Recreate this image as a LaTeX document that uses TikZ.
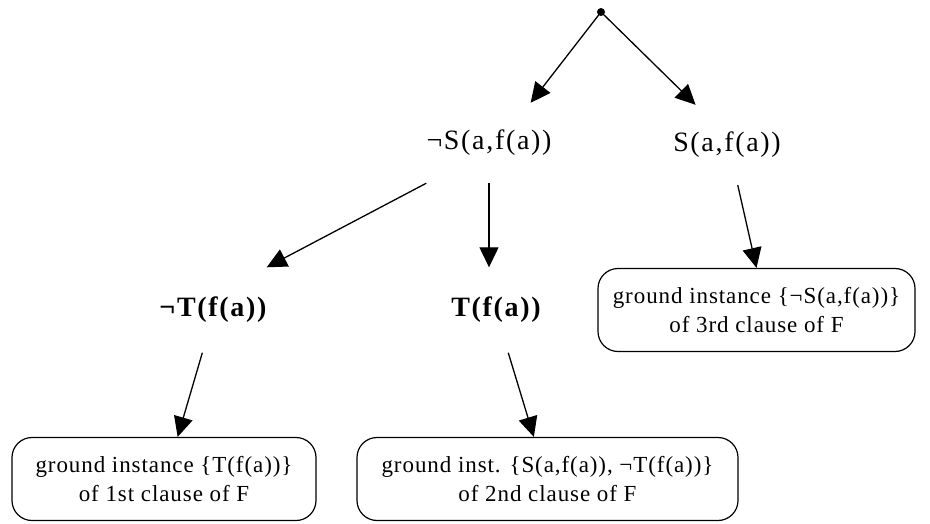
\documentclass[tikz,border=0pt]{standalone}
\usepackage{fontspec}
\setmainfont{Liberation Serif}
\newfontfamily\labfont[LetterSpace=6]{Liberation Serif}
\newfontfamily\boxfont[LetterSpace=4]{Liberation Serif}
\usetikzlibrary{arrows.meta,calc}
\begin{document}
\begin{tikzpicture}[x=1pt,y=-1pt]
        \tikzstyle{lit}=[inner sep=0pt, minimum height=80pt, font=\labfont\fontsize{28}{30}\selectfont]
        \tikzstyle{ground}=[draw, rounded corners=20pt, line width=1.2pt, inner sep=0pt, minimum height=83pt, align=center, font=\boxfont\fontsize{23}{29}\selectfont]
        \tikzstyle{edge}=[line width=1.3pt, -{Triangle[length=20pt,width=19pt]}]

        \useasboundingbox (0,0) rectangle (930,524);

        \fill (601,12) circle (4pt);
        \coordinate (root) at (601,12);
        \node[lit] (nS) at (489,143) {¬S(a,f(a))};
        \node[lit] (S) at (727,145) {S(a,f(a))};
        \node[lit, minimum height=85pt, font=\labfont\bfseries\fontsize{28}{30}\selectfont] (nT) at (213,310) {¬T(f(a))};
        \node[lit, minimum height=85pt, font=\labfont\bfseries\fontsize{28}{30}\selectfont] (T) at (496,310) {T(f(a))};
        \node[ground, minimum width=317pt] (g3) at (756.5,310) {ground instance \{¬S(a,f(a))\}\\of 3rd clause of F};
        \node[ground, minimum width=304pt] (g1) at (164,479) {ground instance \{T(f(a))\}\\of 1st clause of F};
        \node[ground, minimum width=381pt] (g2) at (547.5,479) {ground inst. \{S(a,f(a)), ¬T(f(a))\}\\of 2nd clause of F};

        \draw[edge] (root) -- (nS.44);
        \draw[edge] (root) -- (S.128);
        \draw[edge] (nS.south west) -- (nT.north east);
        \draw[edge] (nS.south) -- (nS.south |- T.north);
        \draw[edge] (S.-75) -- (g3.north);
        \draw[edge] (nT.-104) -- (g1.72);
        \draw[edge] (T.-74) -- (g2.108);
    \end{tikzpicture}
\end{document}
